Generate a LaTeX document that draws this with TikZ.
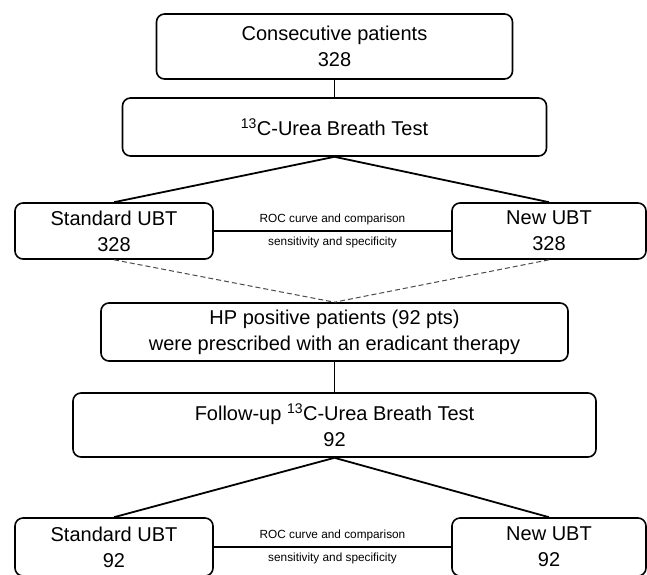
\documentclass[tikz,border=0pt]{standalone}
\usepackage{fontspec}
\setmainfont{Liberation Sans}
\begin{document}
\begin{tikzpicture}[x=1pt,y=-1pt,
  box/.style={draw=black, line width=1.6pt, rounded corners=8pt, inner sep=0pt,
    align=center, font=\fontsize{20}{26}\selectfont},
  conn/.style={draw=black, line width=1.8pt},
  dconn/.style={draw=black!70, line width=1pt, dash pattern=on 5pt off 3pt},
  small/.style={font=\fontsize{11.8}{13}\selectfont, inner sep=0pt}]
\clip (0,0) rectangle (647,574);
\fill[white] (0,0) rectangle (647,574);
\node[box, minimum width=356pt, minimum height=65pt] (c1) at (334.5,46.5) {Consecutive patients\\328};
\node[box, minimum width=424pt, minimum height=58pt] (t1) at (334.5,127) {\textsuperscript{13}C-Urea Breath Test};
\node[box, minimum width=198pt, minimum height=56pt] (s1) at (114,231) {Standard UBT\\328};
\node[box, minimum width=194pt, minimum height=56pt] (n1) at (549,231) {New UBT\\328};
\node[box, minimum width=467pt, minimum height=58pt] (hp) at (334.5,332) {HP positive patients (92 pts)\\were prescribed with an eradicant therapy};
\node[box, minimum width=523pt, minimum height=64pt] (f2) at (334.5,425) {Follow-up \textsuperscript{13}C-Urea Breath Test\\92};
\node[box, minimum width=198pt, minimum height=58pt] (s2) at (114,547) {Standard UBT\\92};
\node[box, minimum width=194pt, minimum height=58pt] (n2) at (549,547) {New UBT\\92};
\draw[conn] (c1.south) -- (t1.north);
\draw[conn] (t1.south) -- (s1.north);
\draw[conn] (t1.south) -- (n1.north);
\draw[conn] (s1.east) -- (n1.west)
  node[small, midway, yshift=12pt] (l1) {ROC curve and comparison}
  node[small, midway, yshift=-11pt] (l2) {sensitivity and specificity};
\draw[dconn] (s1.south) -- (hp.north);
\draw[dconn] (n1.south) -- (hp.north);
\draw[conn] (hp.south) -- (f2.north);
\draw[conn] (f2.south) -- (s2.north);
\draw[conn] (f2.south) -- (n2.north);
\draw[conn] (s2.east) -- (n2.west)
  node[small, midway, yshift=12pt] (l3) {ROC curve and comparison}
  node[small, midway, yshift=-11pt] (l4) {sensitivity and specificity};
\end{tikzpicture}
\end{document}
